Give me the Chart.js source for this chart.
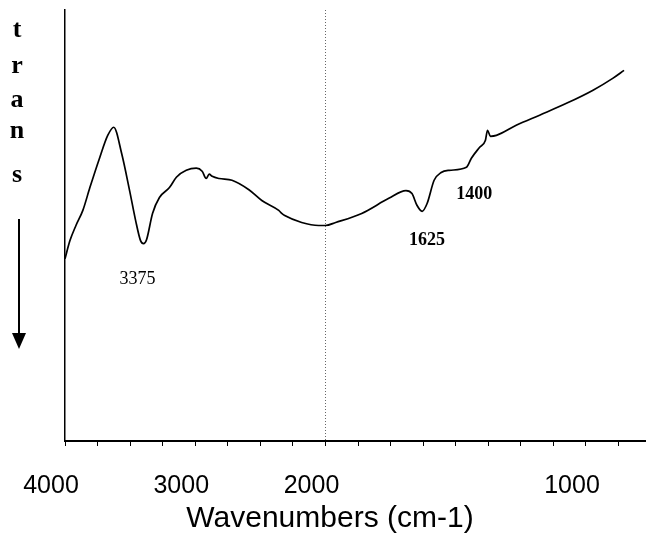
<!DOCTYPE html>
<html>
<head>
<meta charset="utf-8">
<script src="https://cdn.jsdelivr.net/npm/chart.js@4/dist/chart.umd.min.js"></script>
<style>
  html, body { margin: 0; padding: 0; background: #fff; }
  #wrap { width: 646px; height: 539px; position: relative; }
</style>
</head>
<body>
<div id="wrap"><canvas id="c" width="646" height="539"></canvas></div>
<script>
// Wavenumbers (cm-1)
const wavenumbers = [4000,3962,3916,3863,3809,3733,3672,3626,3565,3504,3458,3420,3397,3374,3328,3275,3198,3145,3069,2992,2947,2916,2893,2870,2817,2718,2588,2489,2359,2336,2313,2183,2053,2000,1961,1861,1757,1691,1668,1649,1629,1610,1583,1556,1525,1459,1440,1409,1386,1378,1367,1344,1266,1178,1073,973,896,854];
// Relative transmittance (arbitrary units, 0-100)
const transmittance = [42.3,46.5,50.0,53.5,58.8,65.8,70.9,72.8,66.7,58.1,51.2,46.5,45.8,46.7,52.8,56.5,58.8,61.2,62.8,63.3,62.6,60.9,61.9,61.4,60.9,60.5,58.3,55.8,53.5,52.8,52.3,50.7,50.0,50.0,50.7,52.8,56.3,58.1,57.4,54.7,53.3,55.1,60.5,62.3,62.8,63.5,65.6,68.1,69.8,72.1,70.7,70.9,73.3,75.6,78.4,81.4,84.2,86.0];
// Axis tick labels
const tickLabels = [4000, 3000, 2000, 1000];
// Peak annotations
const peakLabels = ['3375', '1625', '1400'];
const peakLabelX = [3443, 1610, 1429];
const peakLabelY = [37.6, 46.5, 57.2];
const yLetters = ['t', 'r', 'a', 'n', 's'];

// The spectrum's wavenumber axis is expanded 2x below 2000 cm-1.
function toU(w) { return w >= 2000 ? 4000 - w : 2000 + 2 * (2000 - w); }
function fromU(u) { return u <= 2000 ? 4000 - u : 2000 - (u - 2000) / 2; }

const points = wavenumbers.map((w, i) => ({ x: toU(w), y: transmittance[i] }));

const decor = {
  id: 'decor',
  afterDraw(chart) {
    const ctx = chart.ctx;
    const xs = chart.scales.x, ys = chart.scales.y;
    ctx.save();
    // stacked "trans" label
    ctx.fillStyle = '#000';
    ctx.font = 'bold 26px "Liberation Serif", "Times New Roman", serif';
    ctx.textAlign = 'center';
    ctx.textBaseline = 'alphabetic';
    const base = [37, 73, 107, 138, 182];
    yLetters.forEach((l, i) => ctx.fillText(l, 17, base[i]));
    // arrow
    ctx.strokeStyle = '#000';
    ctx.lineWidth = 2;
    ctx.beginPath();
    ctx.moveTo(19, 219);
    ctx.lineTo(19, 336);
    ctx.stroke();
    ctx.beginPath();
    ctx.moveTo(12, 333);
    ctx.lineTo(26, 333);
    ctx.lineTo(19, 349);
    ctx.closePath();
    ctx.fill();
    // peak labels
    ctx.textBaseline = 'middle';
    peakLabels.forEach((t, i) => {
      ctx.font = (i === 0 ? '' : 'bold ') + '18px "Liberation Serif", "Times New Roman", serif';
      ctx.fillText(t, xs.getPixelForValue(toU(peakLabelX[i])), ys.getPixelForValue(peakLabelY[i]));
    });
    ctx.restore();
  }
};

new Chart(document.getElementById('c'), {
  type: 'line',
  data: {
    datasets: [{
      data: points,
      borderColor: '#000',
      borderWidth: 1.7,
      pointRadius: 0,
      cubicInterpolationMode: 'monotone',
      fill: false
    }]
  },
  options: {
    responsive: false,
    animation: false,
    layout: { padding: { left: 65, right: 1, top: 10, bottom: 0 } },
    plugins: { legend: { display: false }, tooltip: { enabled: false } },
    scales: {
      x: {
        type: 'linear',
        min: 0,
        max: 4453,
        afterBuildTicks(scale) {
          const t = [];
          for (let u = 0; u <= 4250; u += 250) t.push({ value: u });
          scale.ticks = t;
        },
        ticks: {
          autoSkip: false,
          maxRotation: 0,
          padding: 25,
          labelOffset: -14,
          color: '#000',
          font: { family: '"Liberation Sans", Arial, sans-serif', size: 25 },
          callback(value) {
            const w = Math.round(fromU(value));
            return tickLabels.includes(w) ? String(w) : '';
          }
        },
        grid: {
          drawOnChartArea: true,
          color: (c) => (c.tick && c.tick.value === 2000 ? '#666' : 'rgba(0,0,0,0)'),
          lineWidth: 1,
          drawTicks: true,
          tickLength: 5,
          tickColor: '#000',
          tickWidth: 1,
          tickBorderDash: []
        },
        border: { display: true, color: '#000', width: 2, dash: [1, 2] },
        title: {
          display: true,
          text: 'Wavenumbers (cm-1)      ',
          color: '#000',
          font: { family: '"Liberation Sans", Arial, sans-serif', size: 30 },
          padding: { top: -25, bottom: 2 }
        }
      },
      y: {
        min: 0,
        max: 100,
        ticks: { display: false },
        grid: { display: false, drawTicks: false },
        border: { display: true, color: '#000', width: 1.5 }
      }
    }
  },
  plugins: [decor]
});
</script>
</body>
</html>
